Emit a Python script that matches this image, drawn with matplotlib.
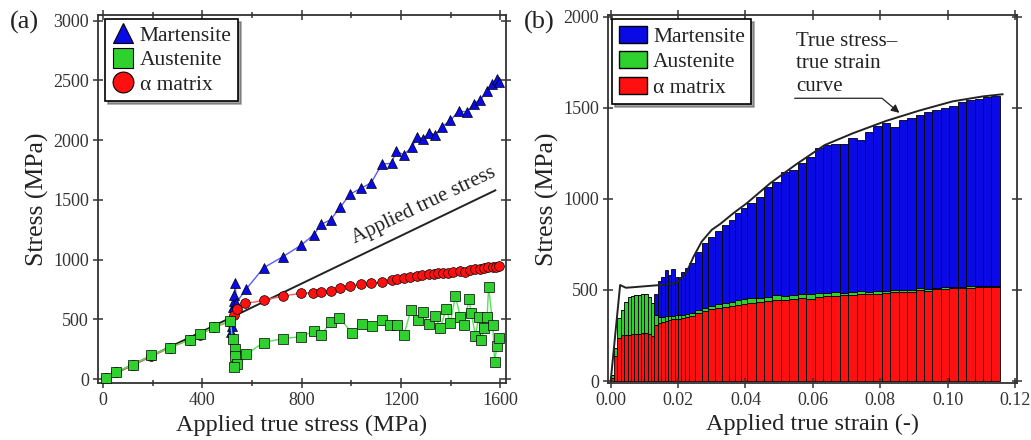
import numpy as np
import matplotlib.pyplot as plt
from matplotlib.lines import Line2D
from matplotlib.patches import Patch

plt.rcParams['font.family'] = ['Liberation Serif', 'DejaVu Serif']

# ---- (a) phase stress vs applied true stress ----
mart_x = [515, 518, 522, 526, 529, 532, 536, 575, 646, 724, 797, 849, 878, 917, 955,
          996, 1039, 1080, 1123, 1162, 1180, 1211, 1244, 1266, 1290, 1313, 1338, 1366,
          1399, 1432, 1466, 1493, 1520, 1547, 1568, 1588, 1594]
mart_y = [390, 445, 600, 650, 700, 805, 640, 750, 931, 1025, 1120, 1210, 1295, 1335, 1439,
          1550, 1597, 1644, 1800, 1806, 1908, 1878, 1944, 2030, 2008, 2064, 2045, 2114,
          2165, 2244, 2236, 2306, 2339, 2411, 2472, 2514, 2490]

aust_x = [12, 53, 119, 192, 270, 348, 389, 448, 512, 521, 532, 532, 541, 529, 577, 646,
          724, 797, 850, 878, 918, 952, 1003, 1043, 1084, 1123, 1157, 1182, 1211, 1240,
          1269, 1289, 1312, 1338, 1358, 1382, 1399, 1419, 1439, 1455, 1474, 1483, 1500,
          1513, 1523, 1536, 1547, 1553, 1570, 1577, 1587, 1594]
aust_y = [6, 61, 119, 200, 264, 328, 375, 439, 486, 333, 250, 194, 125, 97, 208, 306,
          339, 355, 403, 367, 481, 514, 383, 458, 444, 494, 450, 450, 367, 578,
          494, 561, 458, 528, 431, 583, 472, 694, 522, 450, 672, 550, 361,
          522, 325, 431, 522, 772, 450, 147, 278, 347]

alpha_x = [12, 53, 119, 192, 270, 348, 389, 448, 512, 525, 538, 573, 646, 723, 796, 847,
           878, 918, 954, 995, 1038, 1078, 1123, 1163, 1183, 1210, 1237, 1264, 1284, 1311,
           1331, 1351, 1371, 1391, 1411, 1438, 1458, 1478, 1499, 1519, 1535, 1552, 1569,
           1583, 1593]
alpha_y = [10, 55, 115, 190, 262, 330, 372, 435, 480, 540, 585, 633, 658, 695, 718, 723,
           729, 740, 765, 779, 793, 802, 810, 829, 840, 848, 857, 865, 871, 879,
           879, 885, 885, 890, 896, 904, 899, 913, 921, 918, 927, 935, 941,
           941, 949]

applied = [0, 1580]

# ---- (b) stacked phase stresses vs applied true strain ----
strain = [0.0005, 0.0015, 0.0025, 0.0035, 0.0045, 0.0055, 0.0065, 0.0075, 0.0085, 0.0095,
          0.0105, 0.0115, 0.0125, 0.0135, 0.0145, 0.0155, 0.0165, 0.0175, 0.0185, 0.0195,
          0.0205, 0.0215, 0.0225,
          0.024, 0.026, 0.028, 0.030, 0.032, 0.034, 0.036, 0.038,
          0.03925, 0.04175, 0.04425, 0.04675, 0.04925, 0.05175, 0.05425, 0.05675, 0.05925,
          0.06175, 0.06425, 0.06675, 0.06925, 0.07175, 0.07425, 0.07675, 0.07925, 0.08175,
          0.08425, 0.08675, 0.08925, 0.09175, 0.09425, 0.09675, 0.09925, 0.10175, 0.10425,
          0.10675, 0.10925, 0.11175, 0.11425]
alpha_b = [15, 140, 235, 250, 252, 255, 258, 258, 260, 262, 262, 258, 245, 305, 320, 325,
           330, 335, 338, 340, 342, 345, 350,
           358, 372, 385, 396, 402, 408, 414, 420,
           425, 430, 436, 440, 445, 447, 452, 455, 450, 462, 466, 467, 470, 472, 475, 475,
           480, 482, 490, 488, 490, 498, 494, 505, 507, 508, 510, 512, 518, 515, 518]
aust_b = [20, 40, 110, 140, 180, 205, 210, 212, 212, 218, 215, 205, 185, 60, 30, 28,
          25, 22, 20, 20, 22, 20, 18,
          14, 20, 18, 17, 22, 20, 18, 24,
          25, 28, 20, 22, 25, 20, 18, 20, 25, 22, 18, 20, 15, 15, 18, 12,
          15, 12, 10, 10, 12, 12, 10, 8, 8, 6, 8, 7, 6, 5, 5]
total_b = [35, 180, 345, 390, 432, 460, 468, 470, 472, 480, 477, 463, 430, 475, 550, 573,
           610, 582, 616, 572, 572, 600, 620,
           650, 710, 760, 790, 825, 855, 885, 920,
           950, 975, 1010, 1067, 1090, 1149, 1160, 1195, 1231, 1277, 1296, 1301, 1301,
           1332, 1323, 1369, 1400, 1415, 1396, 1433, 1442, 1460, 1479, 1488, 1500, 1510,
           1533, 1540, 1546, 1561, 1565]

curve_strain = [0, 0.0028, 0.0045, 0.0067, 0.010, 0.0147, 0.0196, 0.0226, 0.0246, 0.027,
                0.030, 0.0325, 0.0364, 0.0404, 0.0473, 0.0551, 0.0635, 0.0719, 0.0818,
                0.0917, 0.1015, 0.1104, 0.1163]
curve_stress = [0, 527, 512, 515, 520, 527, 537, 600, 683, 765, 830, 862, 921, 976, 1085,
                1190, 1295, 1360, 1428, 1485, 1535, 1562, 1574]

blue = '#0a0ae6'
green = '#2ed12e'
red = '#ff1010'
ink = '#222222'

fig = plt.figure(figsize=(10.31, 4.40), dpi=100)
ax1 = fig.add_axes([98 / 1031, 57 / 440, 408 / 1031, 368 / 440])
ax2 = fig.add_axes([608 / 1031, 57.5 / 440, 409 / 1031, 367.5 / 440])

# panel (a)
ax1.plot(applied, applied, color=ink, lw=1.4, zorder=2)
ax1.plot(mart_x, mart_y, color='#5a5aff', lw=1, marker='^', ms=7, mfc=blue, mec='black',
         mew=0.5, zorder=3)
ax1.plot(alpha_x, alpha_y, color='#ff5a5a', lw=1, marker='o', ms=7, mfc=red, mec='black',
         mew=0.5, zorder=3)
ax1.plot(aust_x, aust_y, color='#5ae05a', lw=1, marker='s', ms=7, mfc=green, mec='black',
         mew=0.5, zorder=4)
ax1.text(1290, 1450, 'Applied true stress', rotation=25.5, rotation_mode='anchor',
         ha='center', va='center', fontsize=15, color=ink)

ax1.set_xlim(-21, 1623)
ax1.set_ylim(-33, 3048)
ax1.set_xticks([0, 400, 800, 1200, 1600])
ax1.set_xticks([200, 600, 1000, 1400], minor=True)
ax1.set_yticks(np.arange(0, 3001, 500))
ax1.set_xlabel('Applied true stress (MPa)', fontsize=17.5, labelpad=4, color=ink)
ax1.set_ylabel('Stress (MPa)', fontsize=18.5, labelpad=3, color=ink)

h1 = [Line2D([], [], ls='none', marker='^', ms=15, mfc=blue, mec='black', mew=0.8),
      Line2D([], [], ls='none', marker='s', ms=14, mfc=green, mec='black', mew=0.8),
      Line2D([], [], ls='none', marker='o', ms=15, mfc=red, mec='black', mew=0.8)]
leg1 = ax1.legend(h1, ['Martensite', 'Austenite', 'α matrix'], loc='upper left',
                  bbox_to_anchor=(0.018, 0.988), fontsize=15.5, fancybox=False, shadow=True,
                  framealpha=1, edgecolor='black', handlelength=1.0, handletextpad=0.3,
                  borderpad=0.3, labelspacing=0.2, borderaxespad=0)
leg1.get_frame().set_linewidth(1.2)
for t in leg1.get_texts():
    t.set_color(ink)

# panel (b)
strain_a = np.array(strain)
edges = np.concatenate([[0], (strain_a[:-1] + strain_a[1:]) / 2,
                        [strain_a[-1] + (strain_a[-1] - strain_a[-2]) / 2]])
widths = np.diff(edges)
alpha_a = np.array(alpha_b)
aust_a = np.array(aust_b)
mart_a = np.array(total_b) - alpha_a - aust_a
bk = dict(edgecolor='black', linewidth=0.6, align='edge')
ax2.bar(edges[:-1], alpha_a, widths, color=red, **bk)
ax2.bar(edges[:-1], aust_a, widths, bottom=alpha_a, color=green, **bk)
ax2.bar(edges[:-1], mart_a, widths, bottom=alpha_a + aust_a, color=blue, **bk)
ax2.plot(curve_strain, curve_stress, color=ink, lw=1.4, zorder=5)

ax2.text(0.0550, 1565, 'True stress–\ntrue strain\ncurve', fontsize=15, color=ink,
         ha='left', va='bottom', linespacing=1.25)
ax2.annotate('', xy=(0.0857, 1472), xytext=(0.0546, 1552),
             arrowprops=dict(arrowstyle='-|>', color=ink, lw=0.9,
                             connectionstyle='angle,angleA=0,angleB=-40,rad=0',
                             shrinkA=0, shrinkB=0, mutation_scale=12))

ax2.set_xlim(-0.0008, 0.1206)
ax2.set_ylim(-8, 2009)
ax2.set_xticks(np.arange(0, 0.121, 0.02))
ax2.set_xticklabels(['%.2f' % v for v in np.arange(0, 0.121, 0.02)])
ax2.set_yticks(np.arange(0, 2001, 500))
ax2.set_xlabel('Applied true strain (-)', fontsize=17.5, labelpad=4, color=ink)
ax2.set_ylabel('Stress (MPa)', fontsize=18.5, labelpad=3, color=ink)

h2 = [Patch(facecolor=blue, edgecolor='black'), Patch(facecolor=green, edgecolor='black'),
      Patch(facecolor=red, edgecolor='black')]
leg2 = ax2.legend(h2, ['Martensite', 'Austenite', 'α matrix'], loc='upper left',
                  bbox_to_anchor=(0.01, 0.988), fontsize=15.5, fancybox=False, shadow=True,
                  framealpha=1, edgecolor='black', handlelength=1.3, handleheight=0.85,
                  handletextpad=0.3, borderpad=0.3, labelspacing=0.2, borderaxespad=0)
leg2.get_frame().set_linewidth(1.2)
for t in leg2.get_texts():
    t.set_color(ink)

for ax in (ax1, ax2):
    for s in ax.spines.values():
        s.set_linewidth(1.3)
        s.set_color('#333333')
    ax.tick_params(which='both', direction='inout', top=True, right=True, length=7,
                   width=1.1, labelsize=13, colors='#333333', pad=3)
    ax.tick_params(which='minor', length=5)

fig.text(10 / 1031, 1 - 22 / 440, '(a)', fontsize=19, va='center', ha='left', color=ink)
fig.text(524 / 1031, 1 - 22 / 440, '(b)', fontsize=19, va='center', ha='left', color=ink)

fig.savefig('out.png', dpi=100)
